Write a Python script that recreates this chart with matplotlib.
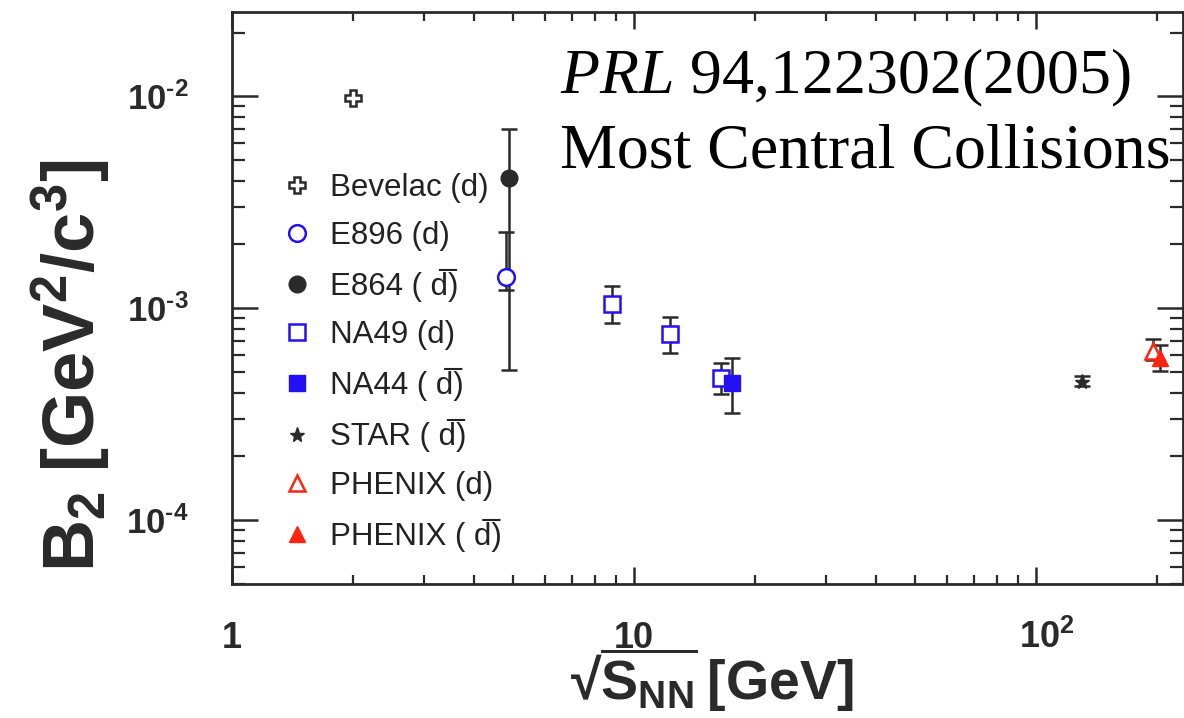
import numpy as np
import matplotlib
matplotlib.use('Agg')
import matplotlib.pyplot as plt
import matplotlib.transforms as mtransforms
from matplotlib.ticker import FixedLocator, FixedFormatter, NullFormatter, LogLocator

# B2 coalescence parameter vs sqrt(s_NN), most central collisions
bev_x = [2.0]
bev_y = [9.8e-3]

e896_x = [4.8]
e896_y = [1.41e-3]
e896_lo = [1.22e-3]
e896_hi = [2.30e-3]

e864_x = [4.9]
e864_y = [4.1e-3]
e864_lo = [5.1e-4]
e864_hi = [7.0e-3]

na49_x = [8.8, 12.3, 16.5]
na49_y = [1.05e-3, 7.6e-4, 4.7e-4]
na49_lo = [8.5e-4, 6.15e-4, 3.95e-4]
na49_hi = [1.27e-3, 9.1e-4, 5.5e-4]

na44_x = [17.5]
na44_y = [4.45e-4]
na44_lo = [3.2e-4]
na44_hi = [5.8e-4]

star_x = [130]
star_y = [4.5e-4]
star_lo = [4.3e-4]
star_hi = [4.8e-4]

phx_d_x = [195]
phx_d_y = [6.3e-4]
phx_d_lo = [5.7e-4]
phx_d_hi = [7.2e-4]

phx_db_x = [203]
phx_db_y = [5.8e-4]
phx_db_lo = [5.05e-4]
phx_db_hi = [6.7e-4]

plt.rcParams['font.family'] = ['Liberation Sans', 'DejaVu Sans']
plt.rcParams['mathtext.fontset'] = 'custom'
plt.rcParams['mathtext.rm'] = 'Liberation Serif'
plt.rcParams['mathtext.it'] = 'Liberation Serif:italic'
plt.rcParams['mathtext.bf'] = 'Liberation Sans:bold'
plt.rcParams['mathtext.sf'] = 'Liberation Sans'

ink = '#2a2a2a'
blue = '#2410f5'
red = '#ff2410'

fig = plt.figure(figsize=(11.84, 7.18), dpi=100)
ax = fig.add_axes([232/1184, 1-584/718, 951/1184, 572/718])
ax.set_xscale('log')
ax.set_yscale('log')


def bars(x, y, lo, hi):
    y = np.array(y)
    err = [y - np.array(lo), np.array(hi) - y]
    ax.errorbar(x, y, yerr=err, fmt='none', ecolor=ink, elinewidth=1.8,
                capsize=6, capthick=1.8, zorder=2)


bars(e896_x, e896_y, e896_lo, e896_hi)
bars(e864_x, e864_y, e864_lo, e864_hi)
bars(na49_x, na49_y, na49_lo, na49_hi)
bars(na44_x, na44_y, na44_lo, na44_hi)
bars(star_x, star_y, star_lo, star_hi)
bars(phx_d_x, phx_d_y, phx_d_lo, phx_d_hi)
bars(phx_db_x, phx_db_y, phx_db_lo, phx_db_hi)

# anti-deuteron: d with a combining overline, plain text keeps row heights equal
d = '(d)'
dbar = '( d\u0305)'
ax.plot(bev_x, bev_y, 'P', ms=11, mfc='white', mec=ink, mew=1.8, ls='none',
        label='Bevelac ' + d, zorder=3)
ax.plot(e896_x, e896_y, 'o', ms=12, mfc='white', mec=blue, mew=1.8, ls='none',
        label='E896 ' + d, zorder=3)
ax.plot(e864_x, e864_y, 'o', ms=12, color=ink, ls='none',
        label='E864 ' + dbar, zorder=3)
ax.plot(na49_x, na49_y, 's', ms=12, mfc='white', mec=blue, mew=1.8, ls='none',
        label='NA49 ' + d, zorder=3)
ax.plot(na44_x, na44_y, 's', ms=11, color=blue, ls='none',
        label='NA44 ' + dbar, zorder=3)
ax.plot(star_x, star_y, '*', ms=11, color=ink, ls='none',
        label='STAR ' + dbar, zorder=3)
ax.plot(phx_d_x, phx_d_y, '^', ms=12, mfc='white', mec=red, mew=1.8, ls='none',
        label='PHENIX ' + d, zorder=3)
ax.plot(phx_db_x, phx_db_y, '^', ms=12, color=red, ls='none',
        label='PHENIX ' + dbar, zorder=3)

ax.set_xlim(1, 232)
ax.set_ylim(5e-5, 2.5e-2)

# axis ticks: ROOT-like, inward on all four sides
hy = '\u2010'
ax.xaxis.set_major_locator(FixedLocator([1, 10, 100]))
ax.xaxis.set_major_formatter(FixedFormatter(['1', '10', r'$\mathbf{10^{2}}$']))
ax.xaxis.set_minor_locator(LogLocator(base=10, subs=np.arange(2, 10)))
ax.xaxis.set_minor_formatter(NullFormatter())
ax.yaxis.set_major_locator(FixedLocator([1e-4, 1e-3, 1e-2]))
ax.yaxis.set_major_formatter(FixedFormatter([r'$\mathbf{10^{%s4}}$' % hy,
                                             r'$\mathbf{10^{%s3}}$' % hy,
                                             r'$\mathbf{10^{%s2}}$' % hy]))
ax.yaxis.set_minor_locator(LogLocator(base=10, subs=np.arange(2, 10)))
ax.yaxis.set_minor_formatter(NullFormatter())

ax.tick_params(axis='x', which='major', direction='in', length=12, width=1.8,
               top=True, labelsize=26, pad=46, colors=ink)
ax.tick_params(axis='x', which='minor', direction='in', length=6.5, width=1.6,
               top=True, colors=ink)
ax.tick_params(axis='y', which='major', direction='in', length=19, width=1.8,
               right=True, labelsize=25, pad=31, colors=ink)
ax.tick_params(axis='y', which='minor', direction='in', length=9.5, width=1.6,
               right=True, colors=ink)
xlabels = ax.get_xticklabels()
for lbl in xlabels:
    lbl.set_fontweight('bold')
    lbl.set_verticalalignment('baseline')
# keep the "10" of 10^2 centred on its tick
xlabels[2].set_transform(xlabels[2].get_transform() +
                         mtransforms.ScaledTranslation(8/72, 0, fig.dpi_scale_trans))
for lbl in ax.get_yticklabels():
    lbl.set_verticalalignment('center_baseline')
for sp in ax.spines.values():
    sp.set_linewidth(2.0)
    sp.set_color(ink)

ax.set_xlabel('$\\mathbf{\u221a\\overline{S_{NN}}\\;[GeV]}$', fontsize=40, color=ink,
              va='center')
ax.xaxis.set_label_coords(0.504, -0.168)
ax.set_ylabel(r'$\mathbf{B_{2}\ [GeV^{2}/c^{3}]}$', fontsize=52, color=ink,
              va='center')
ax.yaxis.set_label_coords(-0.17, 0.381)

leg = ax.legend(loc='upper left', bbox_to_anchor=(0.0515, 0.719), frameon=False,
                fontsize=22.5, handlelength=1.0, handletextpad=0.58,
                labelspacing=0.58, borderpad=0, borderaxespad=0, numpoints=1)
for t in leg.get_texts():
    t.set_color('#222222')

fig.text(560/1184, 1-93/718, r'$\mathit{PRL}$ 94,122302(2005)',
         family='Liberation Serif', fontsize=46, va='baseline', color='black')
fig.text(560/1184, 1-168/718, 'Most Central Collisions',
         family='Liberation Serif', fontsize=46, va='baseline', color='black')

fig.savefig('out.png', dpi=100)
